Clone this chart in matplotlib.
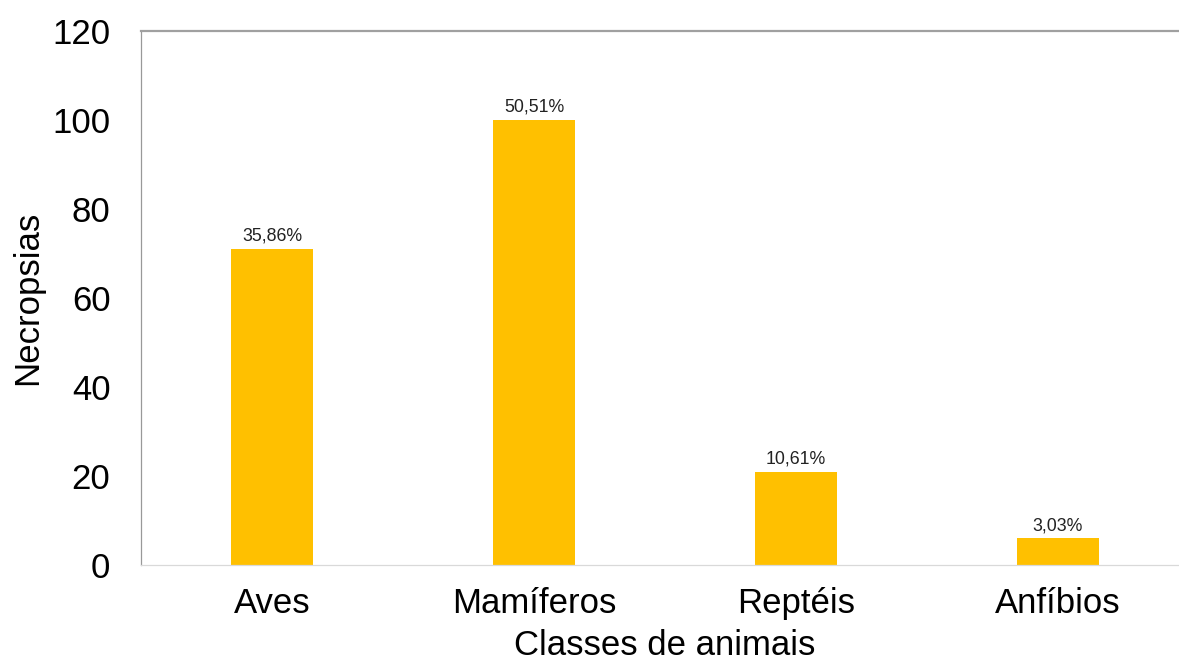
import matplotlib.pyplot as plt

plt.rcParams['font.family'] = ['Liberation Sans', 'DejaVu Sans']

# dados
classes = ["Aves", "Mamíferos", "Reptéis", "Anfíbios"]
necropsias = [71, 100, 21, 6]
percentuais = ["35,86%", "50,51%", "10,61%", "3,03%"]
y_ticks = [0, 20, 40, 60, 80, 100, 120]

fig = plt.figure(figsize=(11.79, 6.68), dpi=100)
ax = fig.add_axes([0.1196, 0.1542, 0.8889, 0.7994])

bars = ax.bar(classes, necropsias, width=0.313, color="#FFC000")
ax.bar_label(bars, labels=percentuais, fontsize=12.8, padding=3, color="#222222")

ax.set_xlim(-0.5, 3.5)
ax.set_ylim(0, 120)
ax.set_yticks(y_ticks)

# eixos / bordas
ax.spines['top'].set_color("#a0a0a0")
ax.spines['top'].set_linewidth(1.6)
ax.spines['left'].set_color("#999999")
ax.spines['left'].set_linewidth(0.9)
ax.spines['bottom'].set_color("#d9d9d9")
ax.spines['bottom'].set_linewidth(0.9)
ax.spines['right'].set_visible(False)

ax.tick_params(axis='both', length=0, labelsize=25)
ax.tick_params(axis='x', pad=16)
ax.tick_params(axis='y', pad=22)

ax.set_xlabel("Classes de animais", fontsize=25, labelpad=6)
ax.set_ylabel("Necropsias", fontsize=25, labelpad=6)

fig.savefig("out.png", dpi=100)
